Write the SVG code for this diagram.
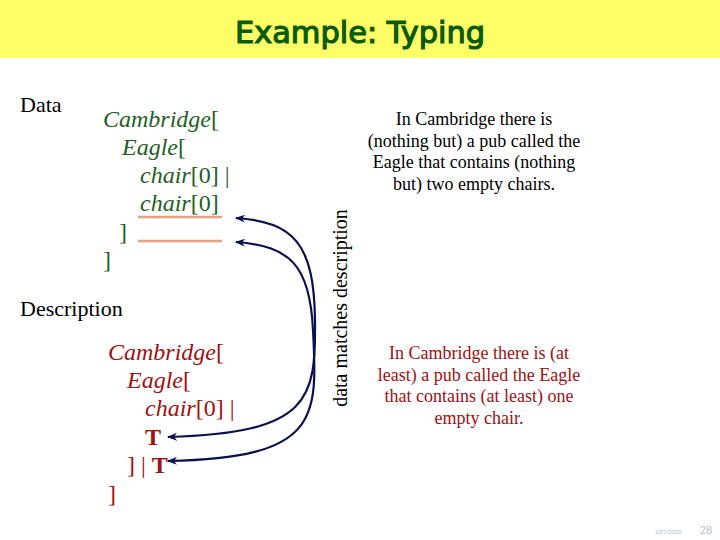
<svg xmlns="http://www.w3.org/2000/svg" width="720" height="540" viewBox="0 0 720 540">
<style>
.lbl{font-family:"Liberation Serif","Times New Roman",serif;font-size:22px;fill:#000}
.g{font-family:"Liberation Serif","Times New Roman",serif;font-size:24px;font-style:italic;fill:#1f5f1f}
.r{font-family:"Liberation Serif","Times New Roman",serif;font-size:24px;font-style:italic;fill:#a01010}
.n{font-style:normal}
.b{font-style:normal;font-weight:bold}
.txt{font-family:"Liberation Serif","Times New Roman",serif;font-size:18px;text-anchor:middle}
.conn{fill:none;stroke:#0a1050;stroke-width:2.2}
</style>
<defs>
<marker id="ah" markerWidth="10" markerHeight="8" refX="9" refY="4" orient="auto-start-reverse" markerUnits="userSpaceOnUse">
<path d="M10,4 L0,0 L3,4 L0,8 Z" fill="#0a1050"/>
</marker>
</defs>
<rect width="720" height="540" fill="#fff"/>
<g id="title">
<rect x="0" y="0" width="720" height="58" fill="#ffff66"/>
<text x="360" y="43" text-anchor="middle" font-family="'DejaVu Sans',sans-serif" font-size="30" fill="#0a5a0a" stroke="#0a5a0a" stroke-width="1.2" textLength="250" lengthAdjust="spacingAndGlyphs">Example: Typing</text>
</g>
<g id="data-label"><text class="lbl" x="20" y="112">Data</text></g>
<g id="data">
<text class="g" x="103" y="127">Cambridge<tspan class="n">[</tspan></text>
<text class="g" x="122" y="155">Eagle<tspan class="n">[</tspan></text>
<text class="g" x="140" y="183">chair<tspan class="n">[0] |</tspan></text>
<text class="g" x="140" y="211">chair<tspan class="n">[0]</tspan></text>
<text class="g n" x="119" y="240">]</text>
<text class="g n" x="103" y="268">]</text>
<line x1="138" y1="217" x2="222" y2="217" stroke="#e8a080" stroke-width="2.5"/>
<line x1="138" y1="241" x2="222" y2="241" stroke="#e8a080" stroke-width="2.5"/>
</g>
<g id="desc-label"><text class="lbl" x="20" y="316">Description</text></g>
<g id="description">
<text class="r" x="108" y="360">Cambridge<tspan class="n">[</tspan></text>
<text class="r" x="127" y="388">Eagle<tspan class="n">[</tspan></text>
<text class="r" x="145" y="416">chair<tspan class="n">[0] |</tspan></text>
<text class="r b" x="145" y="445">T</text>
<text class="r n" x="127" y="473">] | <tspan class="b">T</tspan></text>
<text class="r n" x="108" y="502">]</text>
</g>
<g id="connectors">
<path class="conn" marker-start="url(#ah)" marker-end="url(#ah)" d="M236,218 C295,222 314,245 315,320 C316,400 310,433 168,437"/>
<path class="conn" marker-start="url(#ah)" marker-end="url(#ah)" d="M236,242 C290,246 310,265 313,330 C318,420 318,458 168,461"/>
</g>
<g id="match-label">
<text x="340" y="308" dy="7" transform="rotate(-90 340 308)" text-anchor="middle" font-family="'Liberation Serif','Times New Roman',serif" font-size="20" fill="#000">data matches description</text>
</g>
<g id="data-meaning" fill="#000">
<text class="txt" x="474" y="125">In Cambridge there is</text>
<text class="txt" x="474" y="147">(nothing but) a pub called the</text>
<text class="txt" x="474" y="168">Eagle that contains (nothing</text>
<text class="txt" x="474" y="190">but) two empty chairs.</text>
</g>
<g id="desc-meaning" fill="#a01010">
<text class="txt" x="479" y="359">In Cambridge there is (at</text>
<text class="txt" x="479" y="381">least) a pub called the Eagle</text>
<text class="txt" x="479" y="402">that contains (at least) one</text>
<text class="txt" x="479" y="424">empty chair.</text>
</g>
<g id="footer" font-family="'Liberation Sans',Arial,sans-serif">
<text x="668" y="534" font-size="6" fill="#b0b8c8" text-anchor="middle">10/7/2020</text>
<text x="706" y="534" font-size="11" fill="#b0bcd0" text-anchor="middle">28</text>
</g>
</svg>
